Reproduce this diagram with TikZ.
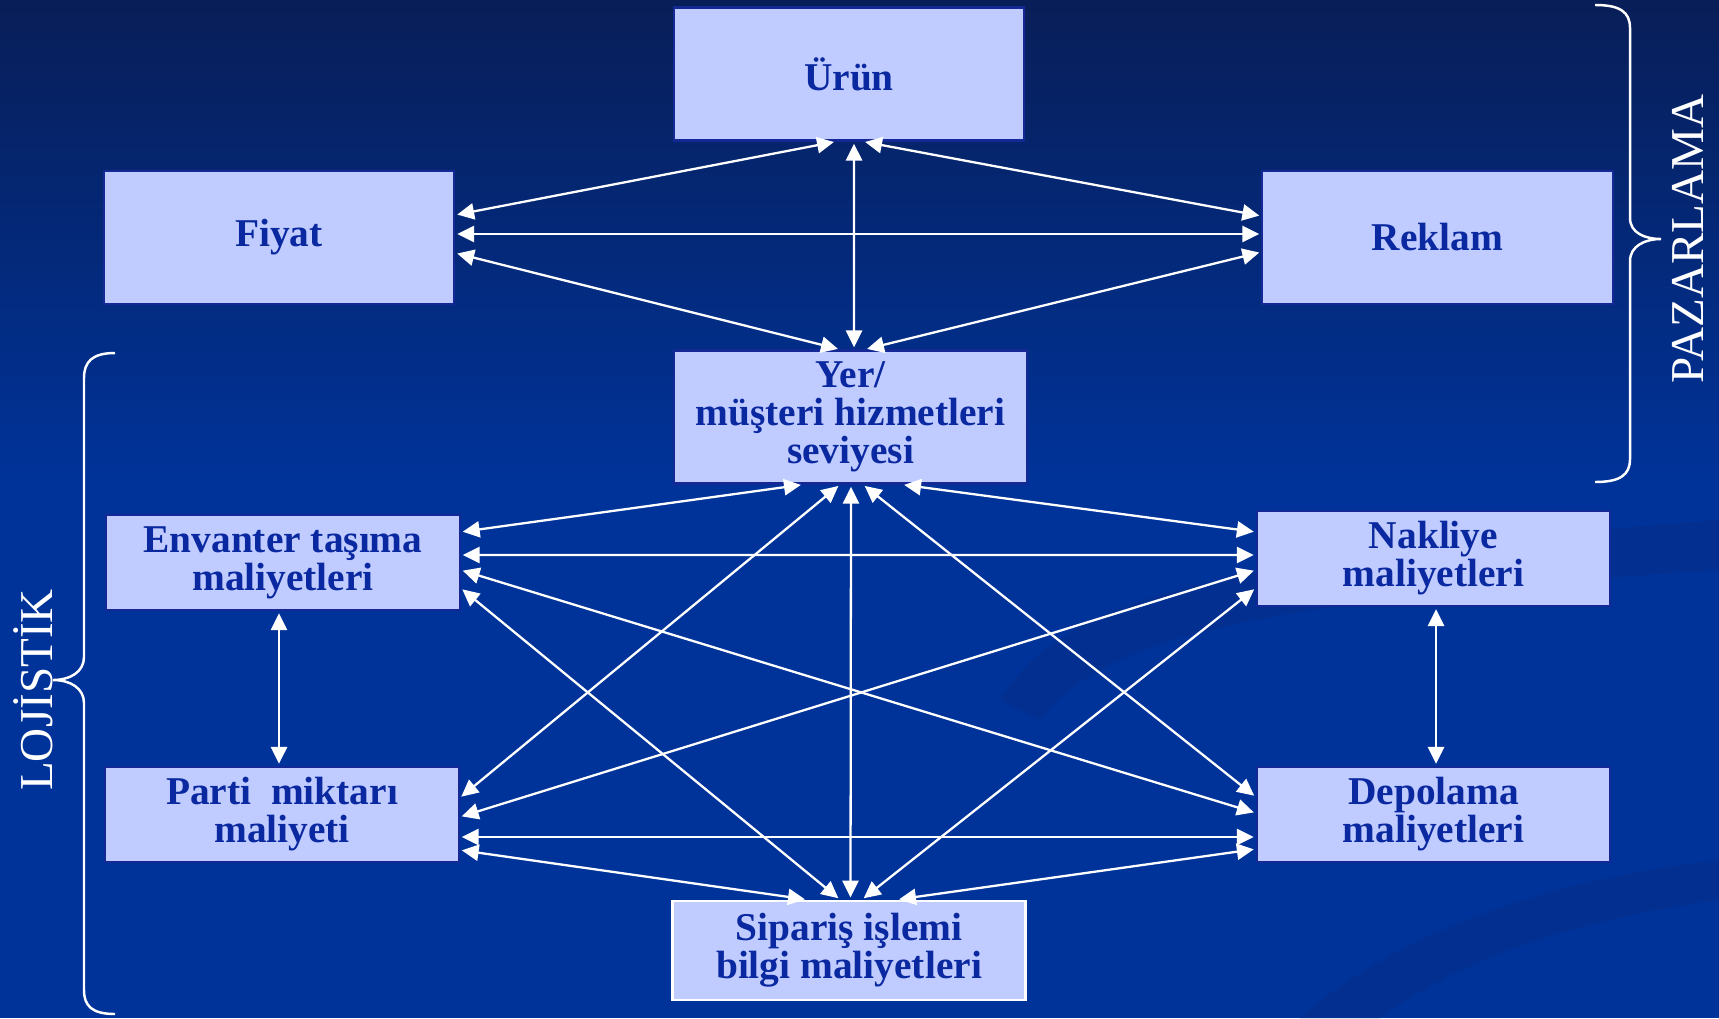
\documentclass[tikz,border=0pt]{standalone}
\usepackage{fontspec}
\setmainfont{Liberation Serif}
\usetikzlibrary{arrows.meta}
\definecolor{bgtop}{RGB}{8,30,88}
\definecolor{bgblue}{RGB}{0,51,153}
\definecolor{swirl}{RGB}{3,48,144}
\definecolor{boxfill}{RGB}{192,204,255}
\definecolor{boxtext}{RGB}{10,40,160}
\definecolor{boxline}{RGB}{20,40,150}
\tikzstyle{arrow} = [<->, >={Triangle[length=4.8pt, width=4.6pt]}, white, line width=0.65pt, shorten <=0.6pt, shorten >=0.6pt]

\begin{document}
\begin{tikzpicture}[
		x=0.01cm, y=-0.01cm,
		box/.style={draw=boxline, line width=0.6pt, fill=boxfill, text=boxtext, font=\bfseries\fontsize{11.2}{10.8}\selectfont, align=center, inner sep=0pt},
		big/.style={box, minimum width=3.5cm, minimum height=1.33cm},
		cost/.style={box, minimum width=3.53cm, minimum height=0.95cm},
		sidelabel/.style={white, font=\fontsize{13.4}{16}\selectfont, rotate=90},
		curly/.style={white, line width=0.7pt}
		]
		
		\fill[bgblue] (0,0) rectangle (1719,1018);
		\shade[top color=bgtop, bottom color=bgblue] (0,0) rectangle (1719,480);
		\fill[swirl] (1000,700) .. controls (1060,600) and (1200,560) .. (1719,520) -- (1719,570) .. controls (1250,600) and (1100,640) .. (1040,720) -- cycle;
		\fill[swirl] (1300,1018) .. controls (1400,930) and (1550,880) .. (1719,860) -- (1719,900) .. controls (1570,920) and (1460,960) .. (1380,1018) -- cycle;
		\useasboundingbox (0,0) rectangle (1719,1018);
		
		\node (urun) at (849,74) [big] {Ürün};
		\node (fiyat) at (279,237.5) [big] {Fiyat};
		\node (reklam) at (1437.5,237.5) [big] {Reklam};
		\node (yer) at (850.5,417) [big, minimum width=3.53cm] {Yer/\\ müşteri hizmetleri\\ seviyesi};
		\node (envanter) at (283,562.5) [cost] {Envanter taşıma\\ maliyetleri};
		\node (nakliye) at (1433.5,558.5) [cost] {Nakliye\\ maliyetleri};
		\node (parti) at (282,814.5) [cost] {Parti\ \ miktarı\\ maliyeti};
		\node (depolama) at (1433.5,814.5) [cost] {Depolama\\ maliyetleri};
		\node (siparis) at (849,950.5) [cost, draw=white, line width=0.8pt, minimum height=0.99cm] {Sipariş işlemi\\ bilgi maliyetleri};
		
		\node (pazarlama) at (1688,239) [sidelabel] {PAZARLAMA};
		\node (lojistik) at (33,690) [sidelabel] {LOJİSTİK};
		
		\draw[curly] (1595,5) .. controls (1620,5) and (1630,12) .. (1630,28) -- (1630,218) .. controls (1630,233) and (1645,239) .. (1661,239) .. controls (1645,239) and (1630,246) .. (1630,261) -- (1630,459) .. controls (1630,475) and (1620,482) .. (1595,482);
		\draw[curly] (115,353) .. controls (92,353) and (84,362) .. (84,378) -- (84,657) .. controls (84,672) and (70,680) .. (53,680) .. controls (70,680) and (84,688) .. (84,703) -- (84,990) .. controls (84,1006) and (92,1014) .. (115,1014);
		
		\draw[arrow] ([xshift=-0.13cm]urun.south) -- ([yshift=0.225cm]fiyat.east);
		\draw[arrow] ([xshift=0.14cm]urun.south) -- ([yshift=0.215cm]reklam.west);
		\draw[arrow] ([xshift=0.05cm]urun.south) -- ([xshift=0.035cm]yer.north);
		\draw[arrow] ([yshift=0.035cm]fiyat.east) -- ([yshift=0.035cm]reklam.west);
		\draw[arrow] ([yshift=-0.155cm]fiyat.east) -- ([xshift=-0.105cm]yer.north);
		\draw[arrow] ([yshift=-0.145cm]reklam.west) -- ([xshift=0.145cm]yer.north);
		
		\draw[arrow] ([xshift=-0.475cm]yer.south) -- ([yshift=0.305cm]envanter.east);
		\draw[arrow] ([xshift=0.515cm]yer.south) -- ([yshift=0.265cm]nakliye.west);
		\draw[arrow] ([yshift=0.075cm]envanter.east) -- ([yshift=0.035cm]nakliye.west);
		\draw[arrow] ([yshift=-0.075cm]envanter.east) -- ([yshift=0.015cm]depolama.west);
		\draw[arrow] ([yshift=-0.255cm]envanter.east) -- ([xshift=-0.09cm]siparis.north);
		\draw[arrow] ([xshift=-0.105cm]yer.south) -- ([yshift=0.165cm]parti.east);
		\draw[arrow] ([xshift=0.005cm]yer.south) -- ([xshift=0.015cm]siparis.north);
		\draw[arrow] ([xshift=0.125cm]yer.south) -- ([yshift=0.175cm]depolama.west);
		\draw[arrow] ([yshift=-0.115cm]nakliye.west) -- ([yshift=-0.025cm]parti.east);
		\draw[arrow] ([yshift=-0.295cm]nakliye.west) -- ([xshift=0.13cm]siparis.north);
		\draw[arrow] ([yshift=-0.225cm]parti.east) -- ([yshift=-0.225cm]depolama.west);
		\draw[arrow] ([yshift=-0.355cm]parti.east) -- ([xshift=-0.42cm]siparis.north);
		\draw[arrow] ([yshift=-0.345cm]depolama.west) -- ([xshift=0.48cm]siparis.north);
		\draw[arrow] ([xshift=-0.04cm]envanter.south) -- ([xshift=-0.03cm]parti.north);
		\draw[arrow] ([xshift=0.025cm]nakliye.south) -- ([xshift=0.025cm]depolama.north);
	\end{tikzpicture}
\end{document}
